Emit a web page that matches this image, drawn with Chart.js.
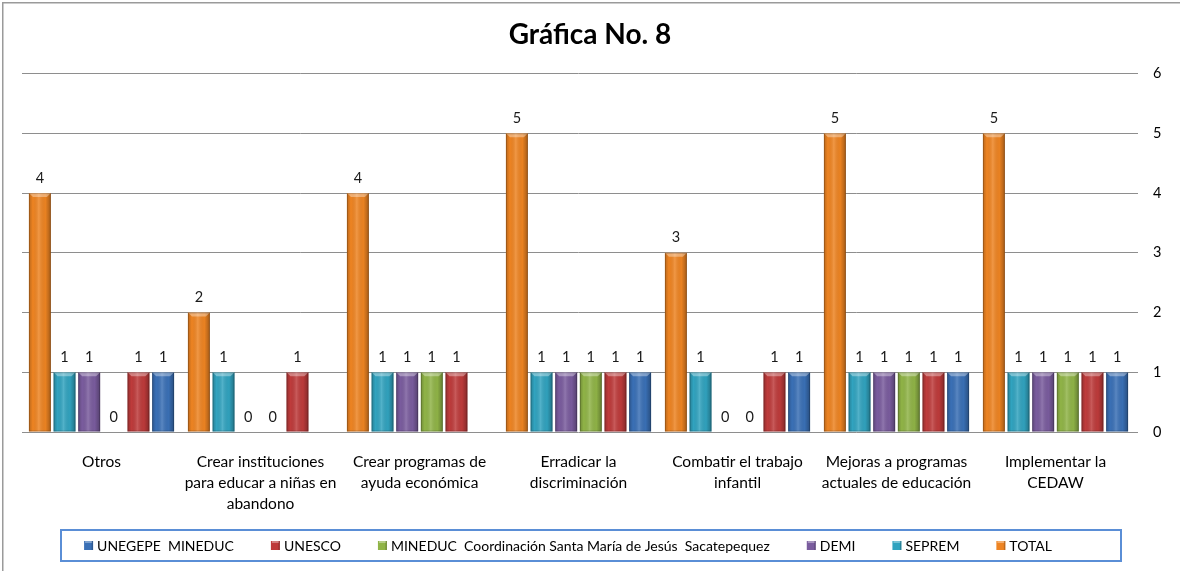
<!DOCTYPE html>
<html><head><meta charset="utf-8">
<script src="https://cdn.jsdelivr.net/npm/chart.js@4.4.1/dist/chart.umd.min.js"></script>
<style>html,body{margin:0;padding:0;background:#fff;overflow:hidden}#wrap{width:1180px;height:571px;position:relative}</style>
</head><body><div id="wrap"><canvas id="c" width="1180" height="571"></canvas></div>
<script>
// ---- data ----
const categories = [
  ['Otros'],
  ['Crear instituciones', 'para educar a niñas en', 'abandono'],
  ['Crear programas de', 'ayuda económica'],
  ['Erradicar la', 'discriminación'],
  ['Combatir el trabajo', 'infantil'],
  ['Mejoras a programas', 'actuales de educación'],
  ['Implementar la', 'CEDAW']
];
const seriesNames = ['TOTAL', 'SEPREM', 'DEMI', 'MINEDUC  Coordinación Santa María de Jesús  Sacatepequez', 'UNESCO', 'UNEGEPE  MINEDUC'];
const totalValues   = [4, 2, 4, 5, 3, 5, 5];
const sepremValues  = [1, 1, 1, 1, 1, 1, 1];
const demiValues    = [1, 0, 1, 1, 0, 1, 1];
const mineducValues = [0, 0, 1, 1, 0, 1, 1];
const unescoValues  = [1, 1, 1, 1, 1, 1, 1];
const unegepeValues = [1, null, null, 1, 1, 1, 1];
const yTicks = [0, 1, 2, 3, 4, 5, 6];

// ---- styles ----
const seriesColors = ['#EE8422', '#31A3BF', '#7A5C9E', '#90B447', '#BE3B3B', '#3A70B6'];
const FONT = 'Lato, "Open Sans", sans-serif';

const allValues = [totalValues, sepremValues, demiValues, mineducValues, unescoValues, unegepeValues];
const datasets = seriesNames.map((n, i) => ({
  label: n,
  data: allValues[i],
  backgroundColor: seriesColors[i],
  borderWidth: 0,
  barPercentage: 0.89,
  categoryPercentage: 0.93,
  yAxisID: 'y'
}));

const framePlugin = {
  id: 'frame',
  beforeDraw(chart) {
    const ctx = chart.ctx;
    ctx.save();
    ctx.fillStyle = '#fff';
    ctx.fillRect(0, 0, chart.width, chart.height);
    ctx.fillStyle = '#9a9a9a';
    ctx.fillRect(2, 2, chart.width - 2, 1.5);
    ctx.fillRect(2, 2, 1.5, chart.height - 2);
    ctx.restore();
  }
};

const barShadePlugin = {
  id: 'barShade',
  afterDatasetsDraw(chart) {
    const ctx = chart.ctx;
    ctx.save();
    chart.data.datasets.forEach((ds, di) => {
      const meta = chart.getDatasetMeta(di);
      meta.data.forEach((el, i) => {
        const v = ds.data[i];
        if (v === null || v === 0) return;
        const p = el.getProps(['x', 'y', 'base', 'width'], true);
        const l = p.x - p.width / 2, r = p.x + p.width / 2;
        const g = ctx.createLinearGradient(l, 0, r, 0);
        g.addColorStop(0, 'rgba(0,0,0,0.22)');
        g.addColorStop(0.18, 'rgba(0,0,0,0.0)');
        g.addColorStop(0.45, 'rgba(255,255,255,0.16)');
        g.addColorStop(0.75, 'rgba(0,0,0,0.02)');
        g.addColorStop(1, 'rgba(0,0,0,0.30)');
        ctx.fillStyle = g;
        ctx.fillRect(l, p.y, p.width, p.base - p.y);
        ctx.fillStyle = 'rgba(255,255,255,0.35)';
        ctx.beginPath();
        ctx.moveTo(l, p.y);
        ctx.lineTo(r, p.y);
        ctx.lineTo(r - 4, p.y + 4);
        ctx.lineTo(l + 4, p.y + 4);
        ctx.closePath();
        ctx.fill();
        ctx.strokeStyle = 'rgba(0,0,0,0.18)';
        ctx.lineWidth = 1;
        ctx.strokeRect(l + 0.5, p.y + 0.5, p.width - 1, p.base - p.y - 1);
      });
    });
    ctx.restore();
  }
};

const dataLabelPlugin = {
  id: 'dataLabels',
  afterDatasetsDraw(chart) {
    const ctx = chart.ctx;
    ctx.save();
    ctx.font = '14.5px ' + FONT;
    ctx.fillStyle = '#1a1a1a';
    ctx.textAlign = 'center';
    ctx.textBaseline = 'middle';
    chart.data.datasets.forEach((ds, di) => {
      const meta = chart.getDatasetMeta(di);
      meta.data.forEach((el, i) => {
        const v = ds.data[i];
        if (v === null || v === undefined) return;
        const p = el.getProps(['x', 'y'], true);
        ctx.fillText(String(v), p.x, p.y - 15);
      });
    });
    ctx.restore();
  }
};

const legendPlugin = {
  id: 'boxLegend',
  afterDraw(chart) {
    const ctx = chart.ctx;
    ctx.save();
    ctx.strokeStyle = '#5A8ED6';
    ctx.lineWidth = 2;
    ctx.strokeRect(61, 530, 1060, 31);
    ctx.font = '14px ' + FONT;
    ctx.textBaseline = 'middle';
    const items = chart.data.datasets.map((d) => ({ text: d.label, color: d.backgroundColor })).reverse();
    const sq = 9, sqGap = 4, itemGap = 37;
    const widths = items.map(it => sq + sqGap + ctx.measureText(it.text).width);
    const total = widths.reduce((a, b) => a + b, 0) + itemGap * (items.length - 1);
    let x = 568 - total / 2;
    const cy = 545.5;
    items.forEach((it, i) => {
      ctx.fillStyle = it.color;
      ctx.fillRect(x, cy - sq / 2, sq, sq);
      ctx.fillStyle = 'rgba(255,255,255,0.35)';
      ctx.fillRect(x + 1, cy - sq / 2, sq - 2, 2);
      ctx.fillStyle = 'rgba(0,0,0,0.2)';
      ctx.fillRect(x + sq - 1.5, cy - sq / 2, 1.5, sq);
      ctx.fillStyle = '#000';
      ctx.textAlign = 'left';
      ctx.fillText(it.text, x + sq + sqGap, cy + 0.5);
      x += widths[i] + itemGap;
    });
    ctx.restore();
  }
};

new Chart(document.getElementById('c'), {
  type: 'bar',
  data: { labels: categories, datasets: datasets },
  options: {
    responsive: false,
    devicePixelRatio: 1,
    animation: false,
    layout: { padding: { left: 0, right: 0, top: 0, bottom: 45 } },
    plugins: {
      legend: { display: false },
      tooltip: { enabled: false },
      title: {
        display: true,
        text: 'Gráfica No. 8',
        color: '#000',
        font: { family: FONT, size: 28, weight: 'bold', lineHeight: 1.2 },
        padding: { top: 18, bottom: 22 }
      }
    },
    scales: {
      x: {
        grid: { display: false },
        border: { display: false },
        ticks: {
          color: '#000',
          font: { family: FONT, size: 15.5, lineHeight: 1.33 },
          padding: 12,
          maxRotation: 0,
          autoSkip: false
        },
        afterFit(s) { s.height = 94; }
      },
      y: {
        position: 'right',
        min: 0,
        max: 6,
        grid: { color: '#8e8e8e', lineWidth: 1, drawTicks: true, tickLength: 3, tickColor: '#8e8e8e' },
        border: { display: false },
        ticks: { color: '#000', font: { family: FONT, size: 14.5 }, padding: 15 },
        afterBuildTicks(s) { s.ticks = yTicks.map(v => ({ value: v })); },
        afterFit(s) { s.width = 45; }
      },
      yLeft: {
        position: 'left',
        display: true,
        grid: { display: false },
        border: { display: false },
        ticks: { display: false },
        afterFit(s) { s.width = 22; }
      }
    }
  },
  plugins: [framePlugin, barShadePlugin, dataLabelPlugin, legendPlugin]
});
</script>
</body></html>
